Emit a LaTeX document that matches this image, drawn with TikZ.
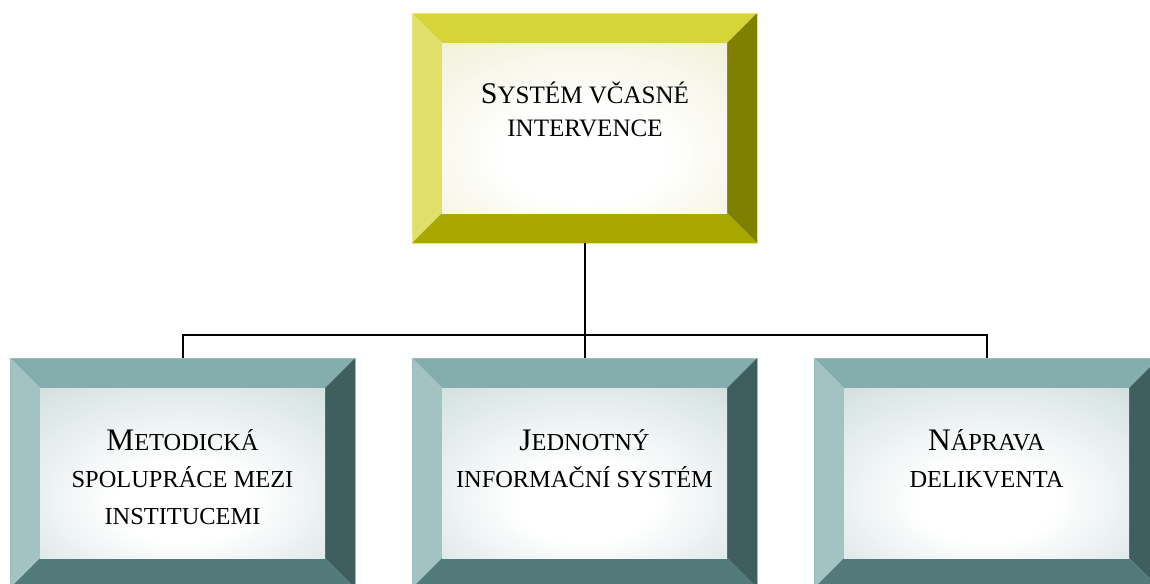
\documentclass[tikz,border=0pt]{standalone}
\usepackage{fontspec}
\setmainfont{Liberation Serif}
\usetikzlibrary{calc}
\definecolor{ytop}{RGB}{213,213,58}
\definecolor{yleft}{RGB}{223,223,106}
\definecolor{yright}{RGB}{128,128,0}
\definecolor{ybot}{RGB}{168,168,0}
\definecolor{yline}{RGB}{232,232,110}
\definecolor{yedge}{RGB}{226,226,180}
\definecolor{ttop}{RGB}{132,174,174}
\definecolor{tleft}{RGB}{163,195,195}
\definecolor{tright}{RGB}{63,95,95}
\definecolor{tbot}{RGB}{82,122,122}
\definecolor{tline}{RGB}{150,190,190}
\definecolor{tedge}{RGB}{168,194,194}
\pgfdeclareradialshading{yshade}{\pgfpoint{0bp}{-10bp}}{color(0bp)=(white); color(14bp)=(white); color(66bp)=(yedge); color(80bp)=(yedge)}
\pgfdeclareradialshading{tshade}{\pgfpoint{0bp}{-10bp}}{color(0bp)=(white); color(12bp)=(white); color(66bp)=(tedge); color(80bp)=(tedge)}
\newcommand\BigY[1]{{\fontsize{22.5}{25}\selectfont #1}}
\newcommand\BigT[1]{{\fontsize{23.5}{27.5}\selectfont #1}}
\tikzset{
  bx/.style={minimum width=258.75pt, minimum height=172.5pt, inner sep=0pt, outer sep=0pt},
  conn/.style={line width=1.5pt, black},
  ytext/.style={align=center, inner sep=0pt, anchor=base, font=\fontsize{18.8}{25}\selectfont},
  ttext/.style={align=center, inner sep=0pt, anchor=base, font=\fontsize{18.3}{27.5}\selectfont},
}
\newcommand\bevelbox[7]{%
  \node[bx] (#1) at (#2) {};
  \coordinate (#1-a) at ($(#1.north west)+(30,30)$);
  \coordinate (#1-b) at ($(#1.north east)+(-30,30)$);
  \coordinate (#1-c) at ($(#1.south east)+(-30,-30)$);
  \coordinate (#1-d) at ($(#1.south west)+(30,-30)$);
  \fill[#3] (#1.north west) -- (#1.north east) -- (#1-b) -- (#1-a) -- cycle;
  \fill[#4] (#1.north west) -- (#1-a) -- (#1-d) -- (#1.south west) -- cycle;
  \fill[#5] (#1.north east) -- (#1.south east) -- (#1-c) -- (#1-b) -- cycle;
  \fill[#6] (#1.south west) -- (#1-d) -- (#1-c) -- (#1.south east) -- cycle;
  \shade[shading=#7] (#1-a) rectangle (#1-c);
}
\begin{document}
\begin{tikzpicture}[x=0.75pt, y=-0.75pt]
\useasboundingbox (0,0) rectangle (1150,583);
\clip (0,0) rectangle (1150,583);
\fill[white] (0,0) rectangle (1150,583);
% boxes
\bevelbox{top}{584.5,128}{ytop}{yleft}{yright}{ybot}{yshade}
\draw[yline, line width=0.6pt] (top.north west) rectangle (top.south east);
\bevelbox{b1}{182.5,473}{ttop}{tleft}{tright}{tbot}{tshade}
\bevelbox{b2}{584.5,473}{ttop}{tleft}{tright}{tbot}{tshade}
\bevelbox{b3}{986.5,473}{ttop}{tleft}{tright}{tbot}{tshade}
\foreach \n in {b1,b2,b3}{\draw[tline, line width=0.6pt] (\n.north west) rectangle (\n.south east);}
% texts (anchored at the baseline of the last line)
\node[ytext] (ttop) at (585,136.7) {\BigY{S}YSTÉM VČASNÉ\\INTERVENCE};
\node[ttext] (tb1) at (182.5,524.3) {\BigT{M}ETODICKÁ\\SPOLUPRÁCE MEZI\\INSTITUCEMI};
\node[ttext] (tb2) at (584.5,487.5) {\BigT{J}EDNOTNÝ\\INFORMAČNÍ SYSTÉM};
\node[ttext] (tb3) at (986.5,487) {\BigT{N}ÁPRAVA\\DELIKVENTA};
% connectors
\coordinate (bus) at (584.5,335);
\draw[conn] (top.south) -- (bus);
\draw[conn] (bus) -| (b1.north);
\draw[conn] (bus) -| (b3.north);
\draw[conn] (bus) -- (b2.north);
\end{tikzpicture}
\end{document}
